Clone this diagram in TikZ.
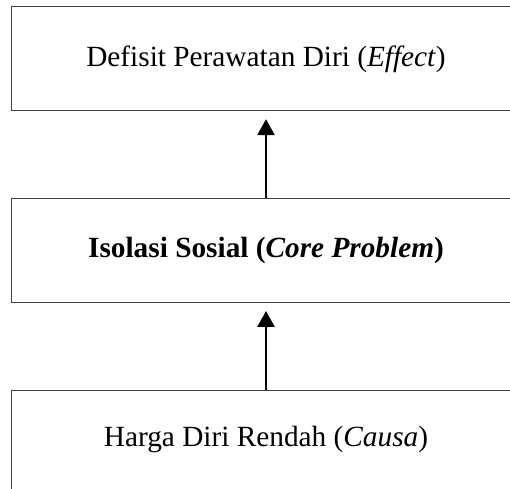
\documentclass[tikz,border=0pt]{standalone}
\usepackage{fontspec}
\setmainfont{Liberation Serif}
\usetikzlibrary{positioning,arrows.meta}
\tikzset{
  stage/.style={draw=black!75,line width=1.3pt,minimum width=509pt,minimum height=104pt,
    inner sep=0pt,font=\fontsize{29.3}{35}\selectfont},
  uparrow/.style={line width=2.6pt,-{Triangle[width=17pt,length=16pt]},shorten >=8pt}
}
\begin{document}
\begin{tikzpicture}[x=1pt,y=-1pt,node distance=86.5pt]
\useasboundingbox (0,0) rectangle (510,488);
\clip (0,0) rectangle (510,488);
\node[stage,text depth=4pt] (effect) at (266,58.5) {Defisit Perawatan Diri (\textit{Effect})};
\node[stage,below=of effect] (core) {\textbf{Isolasi Sosial (\textit{Core Problem})}};
\node[stage,below=87pt of core,text depth=13.5pt] (causa) {Harga Diri Rendah (\textit{Causa})};
\draw[uparrow] (core) -- (effect);
\draw[uparrow] (causa) -- (core);
\end{tikzpicture}
\end{document}
